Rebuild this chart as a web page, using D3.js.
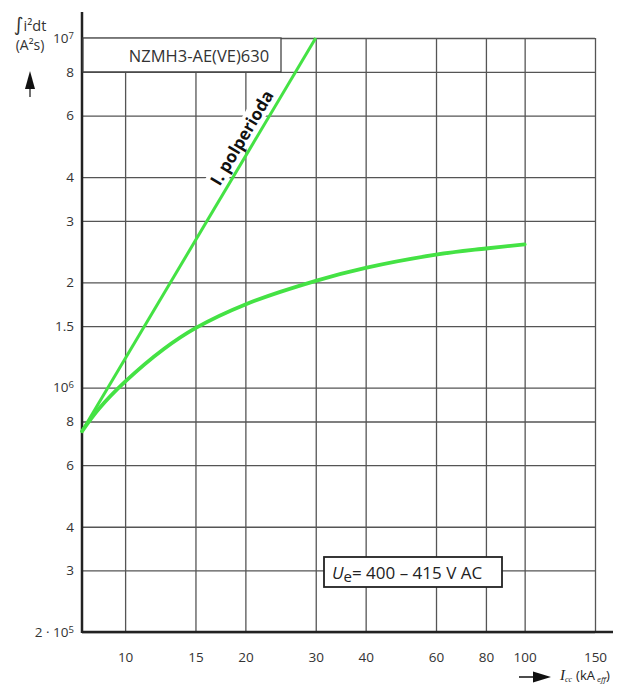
<!DOCTYPE html>
<html><head><meta charset="utf-8">
<script src="https://cdn.jsdelivr.net/npm/d3@7"></script>
<style>
body{margin:0;background:#fff}
svg{display:block;font-family:"Open Sans",sans-serif}
</style></head><body>
<script>
// ---- data ----
const xTicks = [10, 15, 20, 30, 40, 60, 80, 100, 150];
const yTicks = [2e5, 3e5, 4e5, 6e5, 8e5, 1e6, 1.5e6, 2e6, 3e6, 4e6, 6e6, 8e6, 1e7];
const yTickLabels = [["2 · 10","5"],["3"],["4"],["6"],["8"],["10","6"],["1.5"],["2"],["3"],["4"],["6"],["8"],["10","7"]];
const halfPeriodX = [7.8, 30];
const halfPeriodY = [7.5e5, 1e7];
const letThroughX = [7.8, 8.6, 10, 12.5, 15, 20, 30, 40, 60, 80, 100];
const letThroughY = [7.5e5, 8.7e5, 1.04e6, 1.29e6, 1.48e6, 1.73e6, 2.02e6, 2.2e6, 2.4e6, 2.5e6, 2.57e6];
const deviceLabel = "NZMH3-AE(VE)630";
const curveLabel = "I. polperioda";
const voltageLabel = "= 400 – 415 V AC";

// ---- layout ----
const W = 628, H = 685;
const pL = 82, pR = 595, pT = 38, pB = 632;
const green = "#44e244";
const svg = d3.select("body").append("svg").attr("width", W).attr("height", H);

const x = d3.scaleLog().domain([7.8, 150]).range([pL, pR]);
const y = d3.scaleLog().domain([2e5, 1e7]).range([pB, pT]);

// grid via axes
const gx = svg.append("g").attr("transform", `translate(0,${pB})`)
  .call(d3.axisBottom(x).tickValues(xTicks).tickFormat(d3.format("d"))
        .tickSize(-(pB - pT)).tickPadding(20));
const gy = svg.append("g").attr("transform", `translate(${pL},0)`)
  .call(d3.axisLeft(y).tickValues(yTicks).tickFormat(() => "")
        .tickSize(-(pR - pL)).tickPadding(8));
[gx, gy].forEach(g => {
  g.select(".domain").remove();
  g.selectAll(".tick line").attr("stroke", "#555").attr("stroke-width", 1.3);
  g.selectAll(".tick text").attr("fill", "#333").style("font-size", "13.5px")
   .style("font-family", '"Open Sans", sans-serif');
});
gy.selectAll(".tick text").each(function(d, i) {
  const t = d3.select(this);
  const lab = yTickLabels[i];
  t.text(null);
  t.append("tspan").text(lab[0]);
  if (lab[1]) t.append("tspan").attr("dy", "-0.45em").style("font-size", "9.5px").text(lab[1]);
});

// axis lines
svg.append("line").attr("x1", pL).attr("x2", pL).attr("y1", 12).attr("y2", pB + 1)
  .attr("stroke", "#222").attr("stroke-width", 2.5);
svg.append("line").attr("x1", pL).attr("x2", 613).attr("y1", pB).attr("y2", pB)
  .attr("stroke", "#222").attr("stroke-width", 2.5);

// title box
const boxBottom = y(8e6);
svg.append("rect").attr("x", pL + 1).attr("y", pT).attr("width", 281 - pL - 1).attr("height", boxBottom - pT)
  .attr("fill", "#fff").attr("stroke", "#444").attr("stroke-width", 1.3);
svg.append("text").attr("x", 199).attr("y", (pT + boxBottom) / 2 + 1)
  .attr("text-anchor", "middle").attr("dominant-baseline", "central")
  .attr("fill", "#333").style("font-size", "16.5px").text(deviceLabel);

// half period line label with white background
const p0 = [x(halfPeriodX[0]), y(halfPeriodY[0])], p1 = [x(halfPeriodX[1]), y(halfPeriodY[1])];
const ang = Math.atan2(p1[1] - p0[1], p1[0] - p0[0]);
const tt = 0.73;
const cx = p0[0] + (p1[0] - p0[0]) * tt, cy = p0[1] + (p1[1] - p0[1]) * tt;
const nx = Math.sin(ang), ny = -Math.cos(ang);
const off = 13;
const lg = svg.append("g").attr("transform", `translate(${cx + nx * off},${cy + ny * off}) rotate(${ang * 180 / Math.PI})`);
lg.append("rect").attr("x", -66).attr("y", -10).attr("width", 132).attr("height", 20).attr("fill", "#fff");
lg.append("text").attr("text-anchor", "middle").attr("dominant-baseline", "central")
  .style("font-size", "17px").style("font-weight", "bold").attr("fill", "#111").text(curveLabel);

// curves
svg.append("path").datum(halfPeriodX.map((d, i) => [d, halfPeriodY[i]]))
  .attr("d", d3.line().x(d => x(d[0])).y(d => y(d[1])))
  .attr("fill", "none").attr("stroke", green).attr("stroke-width", 3);
svg.append("path").datum(letThroughX.map((d, i) => [d, letThroughY[i]]))
  .attr("d", d3.line().x(d => x(d[0])).y(d => y(d[1])).curve(d3.curveCatmullRom.alpha(0.5)))
  .attr("fill", "none").attr("stroke", green).attr("stroke-width", 3.8).attr("stroke-linecap", "round");

// voltage box
svg.append("rect").attr("x", 324).attr("y", 557).attr("width", 178).attr("height", 30)
  .attr("fill", "#fff").attr("stroke", "#222").attr("stroke-width", 1.8);
const vt = svg.append("text").attr("x", 332).attr("y", 579).attr("fill", "#222").style("font-size", "17px");
vt.append("tspan").style("font-style", "italic").text("U");
vt.append("tspan").attr("dy", 3).style("font-size", "15px").text("e");
vt.append("tspan").attr("dy", -3).text(voltageLabel);

// y axis title
const yt = svg.append("text").attr("x", 30).attr("y", 31).attr("text-anchor", "middle").attr("fill", "#333")
  .style("font-size", "14.5px");
yt.append("tspan").style("font-size", "19px").style("font-family", '"DejaVu Sans", sans-serif').text("∫");
yt.append("tspan").text("i²dt");
svg.append("text").attr("x", 30).attr("y", 50).attr("text-anchor", "middle").attr("fill", "#333")
  .style("font-size", "14px").text("(A²s)");
svg.append("path").attr("d", "M30,71 L25,89 L35,89 Z").attr("fill", "#111");
svg.append("line").attr("x1", 30).attr("x2", 30).attr("y1", 86).attr("y2", 97).attr("stroke", "#111").attr("stroke-width", 1.2);

// x axis title
svg.append("line").attr("x1", 519).attr("x2", 536).attr("y1", 677).attr("y2", 677).attr("stroke", "#111").attr("stroke-width", 1.5);
svg.append("path").attr("d", "M551,677 L533,671.5 L533,682.5 Z").attr("fill", "#111");
const xt = svg.append("text").attr("x", 560).attr("y", 680).attr("fill", "#222").style("font-size", "13px");
xt.append("tspan").style("font-family", '"Liberation Serif", serif').style("font-style", "italic").style("font-size", "15px").text("I");
xt.append("tspan").attr("dy", 2).style("font-family", '"Liberation Serif", serif').style("font-style", "italic").style("font-size", "8px").text("cc");
xt.append("tspan").attr("dy", -2).attr("dx", 4).text("(kA");
xt.append("tspan").attr("dy", 2).attr("dx", 2).style("font-style", "italic").style("font-size", "8px").text("eff");
xt.append("tspan").attr("dy", -2).text(")");
</script>
</body></html>
